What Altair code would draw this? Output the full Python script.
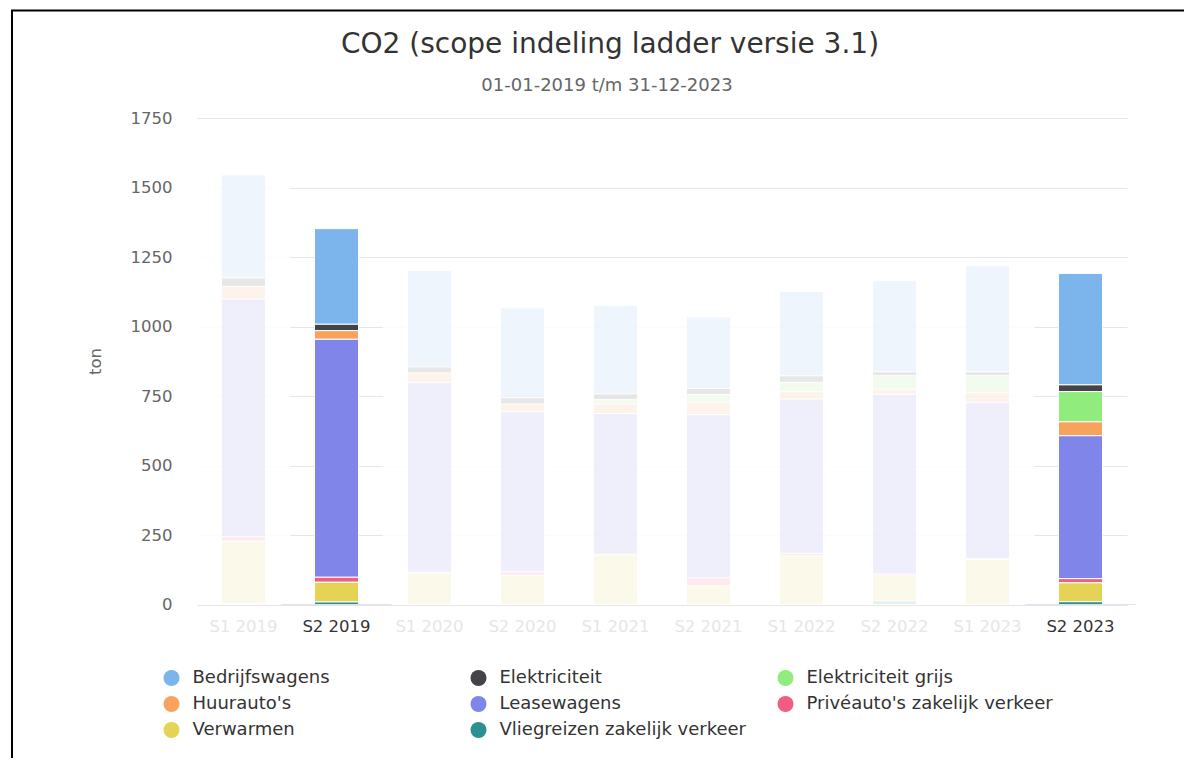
import altair as alt
import pandas as pd

periods = ["S1 2019", "S2 2019", "S1 2020", "S2 2020", "S1 2021",
           "S2 2021", "S1 2022", "S2 2022", "S1 2023", "S2 2023"]
highlighted = ["S2 2019", "S2 2023"]

series = ["Bedrijfswagens", "Elektriciteit", "Elektriciteit grijs", "Huurauto's",
          "Leasewagens", "Privéauto's zakelijk verkeer", "Verwarmen",
          "Vliegreizen zakelijk verkeer"]
colors = ["#7cb5ec", "#434348", "#90ed7d", "#f7a35c",
          "#8085e9", "#f15c80", "#e4d354", "#2b908f"]

bedrijfswagens = [371, 344, 347, 323, 318, 257, 303, 328, 382, 401]
elektriciteit = [31, 23, 22, 23, 21, 22, 24, 14, 14, 24]
elektriciteit_grijs = [0, 0, 0, 0, 15, 28, 33, 49, 61, 109]
huurautos = [45, 31, 34, 27, 35, 44, 27, 18, 35, 50]
leasewagens = [855, 856, 683, 576, 506, 587, 555, 646, 562, 514]
priveautos = [16, 18, 4, 13, 3, 29, 9, 7, 3, 15]
verwarmen = [224, 71, 112, 105, 178, 67, 175, 90, 162, 68]
vliegreizen = [4, 9, 0, 0, 0, 0, 0, 13, 0, 10]

title_text = "CO2 (scope indeling ladder versie 3.1)"
subtitle_text = "01-01-2019 t/m 31-12-2023"
top_text = "Trend t.o.v. 2019S2."

all_values = [bedrijfswagens, elektriciteit, elektriciteit_grijs, huurautos,
              leasewagens, priveautos, verwarmen, vliegreizen]

rows = []
for si, (s, vals) in enumerate(zip(series, all_values)):
    for p, v in zip(periods, vals):
        if v > 0:
            rows.append({"period": p, "series": s, "value": v,
                         "stackorder": len(series) - si})
df = pd.DataFrame(rows)

totals = df.groupby("period")["value"].sum()
faded = [p for p in periods if p not in highlighted]
ov = pd.DataFrame({"period": faded,
                   "base": [0] * len(faded),
                   "top": [totals[p] + 25 for p in faded]})
hl = pd.DataFrame({"period": highlighted, "base": [0] * len(highlighted)})

W, H = 930, 486.5

xscale = alt.Scale(domain=periods, paddingInner=0, paddingOuter=0)
yscale = alt.Scale(domain=[0, 1750], nice=False)

xaxis = alt.Axis(
    title=None, domain=False, ticks=False, tickSize=0, grid=False,
    labelFontSize=16.5, labelPadding=14, labelAngle=0,
    labelColor={"condition": {"test": "indexof(['S2 2019','S2 2023'], datum.value) >= 0",
                              "value": "#333333"},
                "value": "#e6e6e6"},
)
yaxis = alt.Axis(
    title="ton", values=[0, 250, 500, 750, 1000, 1250, 1500, 1750], format="d",
    domain=False, ticks=False, tickSize=0, grid=True, gridColor="#e6e6e6",
    labelFontSize=16.5, labelColor="#666666", labelPadding=25,
    titleFontSize=16.5, titleColor="#666666", titleFontWeight="normal",
    titleX=-102, titleY=243, titleAngle=270, titleBaseline="middle", titleAlign="center",
)

overlay = alt.Chart(ov).mark_bar(size=93, color="white", opacity=0.85).encode(
    x=alt.X("period:N", sort=periods, scale=xscale, axis=xaxis),
    y=alt.Y("base:Q", scale=yscale, axis=yaxis),
    y2="top:Q",
)

bars = alt.Chart(df).mark_bar(size=44, stroke="white", strokeWidth=1).encode(
    x=alt.X("period:N", sort=periods, scale=xscale, axis=xaxis),
    y=alt.Y("sum(value):Q", scale=yscale, axis=yaxis, stack="zero"),
    color=alt.Color("series:N", scale=alt.Scale(domain=series, range=colors),
                    legend=alt.Legend(
                        orient="none", legendX=-34.5, legendY=551, title=None,
                        direction="horizontal",
                        columns=3, gridAlign="all", columnPadding=30, rowPadding=8,
                        symbolType="circle", symbolSize=256, symbolOpacity=1,
                        symbolStrokeWidth=0, labelFontSize=18, labelColor="#333333",
                        labelOffset=12, labelLimit=400, padding=0)),
    order=alt.Order("stackorder:Q", sort="ascending"),
    opacity=alt.condition(alt.FieldOneOfPredicate(field="period", oneOf=highlighted),
                          alt.value(1), alt.value(0.12)),
)

baseline = alt.Chart(hl).mark_tick(size=110, thickness=1, color="#ccd6eb").encode(
    x=alt.X("period:N", sort=periods, scale=xscale, axis=xaxis),
    y=alt.Y("base:Q", scale=yscale, axis=yaxis),
)

title = alt.Chart(pd.DataFrame({"t": [title_text]})).mark_text(
    fontSize=28, color="#333333", align="center", baseline="alphabetic"
).encode(text="t:N", x=alt.value(413), y=alt.value(-65))

subtitle = alt.Chart(pd.DataFrame({"t": [subtitle_text]})).mark_text(
    fontSize=18, color="#666666", align="center", baseline="alphabetic"
).encode(text="t:N", x=alt.value(410), y=alt.value(-27))

toptext = alt.Chart(pd.DataFrame({"t": [top_text]})).mark_text(
    fontSize=28, color="#000000", align="left", baseline="alphabetic",
    font="Liberation Sans"
).encode(text="t:N", x=alt.value(-196), y=alt.value(-113))

frame = alt.Chart(pd.DataFrame({"t": [0]})).mark_rect(
    fillOpacity=0, stroke="black", strokeWidth=2
).encode(x=alt.value(-185), x2=alt.value(1200), y=alt.value(-107.5), y2=alt.value(900))

chart = alt.layer(overlay, bars, baseline, title, subtitle, toptext, frame).properties(
    width=W, height=H,
    padding={"left": 189, "top": 110, "right": 57, "bottom": 153.5},
    autosize=alt.AutoSizeParams(type="none"),
).configure(
    font="DejaVu Sans",
).configure_view(stroke=None)

chart.save("out.html", embed_options={"renderer": "svg", "actions": False})
